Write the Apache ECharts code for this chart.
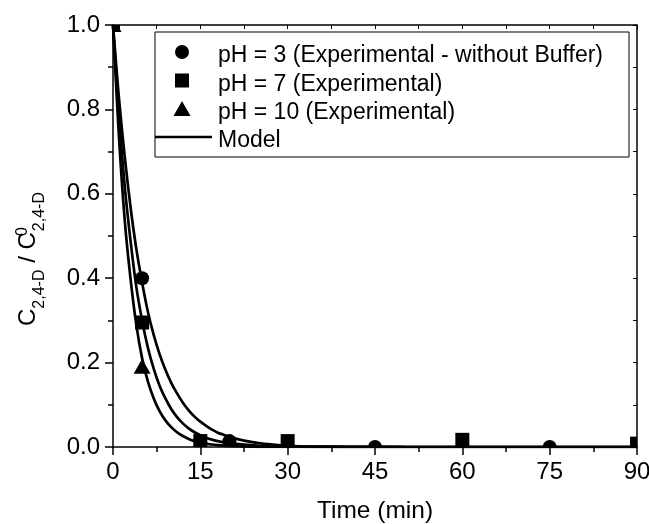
<!DOCTYPE html>
<html>
<head>
<meta charset="utf-8">
<script src="https://cdn.jsdelivr.net/npm/echarts@6/dist/echarts.min.js"></script>
<style>
  html, body { margin: 0; padding: 0; background: #fff; }
  #chart { width: 649px; height: 524px; }
</style>
</head>
<body>
<div id="chart"></div>
<script>
const FONT = '"Liberation Sans", Arial, Helvetica, sans-serif';

// Experimental runs: sampling time (min) and normalized 2,4-D concentration
const ph3Time  = [0, 5, 20, 45, 75, 90];
const ph3Conc  = [1.0, 0.40, 0.014, 0.0, 0.0, 0.005];
const ph7Time  = [0, 5, 15, 30, 60, 90];
const ph7Conc  = [1.0, 0.295, 0.014, 0.014, 0.017, 0.008];
const ph10Time = [0, 5, 15, 30, 60, 90];
const ph10Conc = [1.0, 0.19, 0.010, 0.010, 0.012, 0.004];

// Kinetic model curves
const modelTime = [0, 1, 2, 3, 4, 5, 6, 7, 8, 9, 10, 11, 12, 13, 14, 15, 16, 17, 18, 19, 20,
                   22.5, 25, 27.5, 30, 35, 40, 50, 60, 90];
const modelPH10 = [1, 0.74, 0.54, 0.40, 0.29, 0.21, 0.155, 0.115, 0.085, 0.063, 0.047, 0.035, 0.026, 0.019, 0.014, 0.011, 0.008, 0.006, 0.0045, 0.0034, 0.0025,
                   0.0012, 0.0005, 0.0002, 0, 0, 0, 0, 0, 0];
const modelPH7  = [1, 0.79, 0.62, 0.49, 0.38, 0.30, 0.235, 0.185, 0.145, 0.115, 0.09, 0.071, 0.056, 0.044, 0.035, 0.028, 0.022, 0.0175, 0.014, 0.011, 0.009,
                   0.0055, 0.003, 0.0018, 0.001, 0.0004, 0.0002, 0, 0, 0];
const modelPH3  = [1, 0.83, 0.69, 0.57, 0.47, 0.39, 0.32, 0.265, 0.22, 0.183, 0.152, 0.127, 0.105, 0.087, 0.072, 0.06, 0.05, 0.041, 0.034, 0.029, 0.024,
                   0.015, 0.009, 0.0055, 0.003, 0.0012, 0.0005, 0.0001, 0, 0];

// Axis ticks and legend texts
const xTicks = [0, 15, 30, 45, 60, 75, 90];
const yTicks = [0.0, 0.2, 0.4, 0.6, 0.8, 1.0];
const legendLabels = [
  'pH = 3 (Experimental - without Buffer)',
  'pH = 7 (Experimental)',
  'pH = 10 (Experimental)',
  'Model'
];

function marker(shape, x, y) {
  if (shape === 'circle') {
    return { type: 'circle', shape: { cx: x, cy: y, r: 7 }, style: { fill: '#000' } };
  }
  if (shape === 'square') {
    return { type: 'rect', shape: { x: x - 7, y: y - 7, width: 14, height: 14 }, style: { fill: '#000' } };
  }
  return { type: 'polygon', shape: { points: [[x, y - 8], [x + 8.5, y + 7], [x - 8.5, y + 7]] }, style: { fill: '#000' } };
}

function pointSeries(name, times, concs, shape) {
  return {
    type: 'custom',
    name: name,
    clip: true,
    z: 5,
    data: times.map((t, i) => [t, concs[i]]),
    encode: { x: 0, y: 1 },
    renderItem: function (params, api) {
      const p = api.coord([api.value(0), api.value(1)]);
      return marker(shape, p[0], p[1]);
    }
  };
}

function modelSeries(values) {
  return {
    type: 'line',
    name: 'Model',
    data: modelTime.map((t, i) => [t, values[i]]),
    smooth: 0.3,
    symbol: 'none',
    clip: true,
    z: 3,
    lineStyle: { color: '#000', width: 2.7 }
  };
}

const xStep = xTicks[1] - xTicks[0];
const yStep = +(yTicks[1] - yTicks[0]).toFixed(3);
const axisLineStyle = { color: '#000', width: 1.5 };
const tickLabel = { color: '#000', fontSize: 24, fontFamily: FONT };

// Legend block: framed box with symbol keys and labels
const legendBox = { left: 155, top: 32, width: 474, height: 125 };
const legendRowY = [52, 80.5, 109, 137];
const legendTextY = [56, 84.3, 112.7, 140.5];
const legendKeyX = 182;
const legendShapes = ['circle', 'square', 'triangle'];
const legendGraphics = [
  { type: 'rect', shape: { x: legendBox.left, y: legendBox.top, width: legendBox.width, height: legendBox.height },
    style: { fill: '#fff', stroke: '#000', lineWidth: 1 }, z: 10 }
];
legendShapes.forEach((s, i) => {
  const m = marker(s, legendKeyX, legendRowY[i]);
  m.z = 11;
  legendGraphics.push(m);
});
legendGraphics.push({ type: 'line', shape: { x1: legendBox.left, y1: legendRowY[3], x2: 212, y2: legendRowY[3] },
  style: { stroke: '#000', lineWidth: 2.5 }, z: 11 });
legendLabels.forEach((label, i) => {
  legendGraphics.push({ type: 'text', x: 218, y: legendTextY[i], z: 11,
    style: { text: label, fill: '#000', font: '23px ' + FONT, textVerticalAlign: 'middle', textAlign: 'left' } });
});

const chart = echarts.init(document.getElementById('chart'), null, { renderer: 'canvas' });
chart.setOption({
  backgroundColor: '#fff',
  animation: false,
  grid: { left: 113, right: 12, top: 25, bottom: 77, containLabel: false, outerBoundsMode: 'none' },
  xAxis: [
    {
      type: 'value', position: 'bottom',
      min: xTicks[0], max: xTicks[xTicks.length - 1], interval: xStep,
      name: 'Time (min)', nameLocation: 'middle', nameGap: 52, nameMoveOverlap: false,
      nameTextStyle: { color: '#000', fontSize: 24.5, fontFamily: FONT },
      axisLine: { show: true, onZero: false, lineStyle: axisLineStyle },
      axisTick: { show: true, inside: false, length: 8, lineStyle: axisLineStyle },
      minorTick: { show: true, splitNumber: 2, length: 5, lineStyle: axisLineStyle },
      axisLabel: Object.assign({ margin: 13 }, tickLabel),
      splitLine: { show: false }, minorSplitLine: { show: false }
    },
    {
      type: 'value', position: 'top',
      min: xTicks[0], max: xTicks[xTicks.length - 1], interval: xStep / 2,
      axisLine: { show: true, onZero: false, lineStyle: axisLineStyle },
      axisTick: { show: true, inside: true, length: 4, lineStyle: { color: '#000', width: 1 } },
      axisLabel: { show: false }, splitLine: { show: false }
    }
  ],
  yAxis: [
    {
      type: 'value', position: 'left',
      min: yTicks[0], max: yTicks[yTicks.length - 1], interval: yStep,
      name: '{m|C}{s|2,4-D}{m| / C}{p|0}{s|2,4-D}',
      nameLocation: 'middle', nameGap: 65, nameRotate: 90, nameMoveOverlap: false,
      nameTextStyle: {
        color: '#000', fontFamily: FONT, padding: [0, 46, 0, 0],
        rich: {
          m: { fontSize: 24, lineHeight: 40, verticalAlign: 'middle', fontFamily: FONT, color: '#000' },
          s: { fontSize: 16, lineHeight: 16, verticalAlign: 'bottom', fontFamily: FONT, color: '#000' },
          p: { fontSize: 16, lineHeight: 22, padding: [7, 0, 0, 0], width: 1, verticalAlign: 'top', fontFamily: FONT, color: '#000' }
        }
      },
      axisLine: { show: true, onZero: false, lineStyle: axisLineStyle },
      axisTick: { show: true, inside: false, length: 8, lineStyle: axisLineStyle },
      minorTick: { show: true, splitNumber: 2, length: 5, lineStyle: axisLineStyle },
      axisLabel: Object.assign({ margin: 13, formatter: v => v.toFixed(1) }, tickLabel),
      splitLine: { show: false }, minorSplitLine: { show: false }
    },
    {
      type: 'value', position: 'right',
      min: yTicks[0], max: yTicks[yTicks.length - 1], interval: yStep / 2,
      axisLine: { show: true, onZero: false, lineStyle: axisLineStyle },
      axisTick: { show: true, inside: true, length: 4, lineStyle: { color: '#000', width: 1 } },
      axisLabel: { show: false }, splitLine: { show: false }
    }
  ],
  graphic: legendGraphics,
  series: [
    modelSeries(modelPH10),
    modelSeries(modelPH7),
    modelSeries(modelPH3),
    pointSeries(legendLabels[0], ph3Time, ph3Conc, 'circle'),
    pointSeries(legendLabels[1], ph7Time, ph7Conc, 'square'),
    pointSeries(legendLabels[2], ph10Time, ph10Conc, 'triangle')
  ]
});
</script>
</body>
</html>
